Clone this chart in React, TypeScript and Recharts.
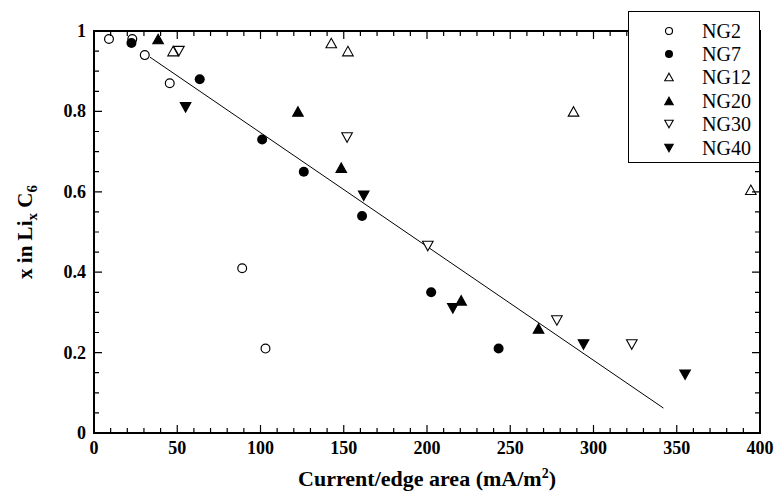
import React from 'react';
import { ScatterChart, Scatter, XAxis, YAxis, ReferenceArea, Legend } from 'recharts';

// x = current/edge area (mA/m2), y = x in LixC6
const ng2 = [
  { x: 9, y: 0.98 }, { x: 23, y: 0.98 }, { x: 30.5, y: 0.94 }, { x: 45.5, y: 0.87 },
  { x: 89, y: 0.41 }, { x: 103, y: 0.21 },
];
const ng7 = [
  { x: 22.5, y: 0.97 }, { x: 63.5, y: 0.88 }, { x: 101, y: 0.73 }, { x: 126, y: 0.65 },
  { x: 161, y: 0.54 }, { x: 202.5, y: 0.35 }, { x: 243, y: 0.21 },
];
const ng12 = [
  { x: 47.5, y: 0.95 }, { x: 142.5, y: 0.97 }, { x: 152.5, y: 0.95 }, { x: 288, y: 0.8 },
  { x: 394.5, y: 0.605 },
];
const ng20 = [
  { x: 38.5, y: 0.98 }, { x: 122.5, y: 0.8 }, { x: 148.5, y: 0.66 }, { x: 220.5, y: 0.33 },
  { x: 267, y: 0.26 },
];
const ng30 = [
  { x: 51, y: 0.95 }, { x: 152, y: 0.735 }, { x: 200.5, y: 0.465 }, { x: 278, y: 0.28 },
  { x: 323, y: 0.22 },
];
const ng40 = [
  { x: 55, y: 0.81 }, { x: 162, y: 0.59 }, { x: 215.5, y: 0.31 }, { x: 294, y: 0.22 },
  { x: 355, y: 0.145 },
];
const fitLine = [{ x: 33.6, y: 0.935 }, { x: 342, y: 0.062 }];

const xMajor = [0, 50, 100, 150, 200, 250, 300, 350, 400];
const yMajor = [0, 0.2, 0.4, 0.6, 0.8, 1];
const xTicks = Array.from({ length: 41 }, (_, i) => i * 10);
const yTicks = Array.from({ length: 21 }, (_, i) => Math.round(i * 5) / 100);

const FONT = "'Liberation Serif', 'Times New Roman', Times, serif";
const PLOT_TOP = 31;
const PLOT_BOTTOM = 433;
const PLOT_LEFT = 94;
const PLOT_RIGHT = 760;

type Kind = 'circle' | 'dot' | 'up' | 'upFill' | 'down' | 'downFill';

const Marker = ({ cx, cy, kind, s = 1 }: { cx: number; cy: number; kind: Kind; s?: number }) => {
  if (cx == null || cy == null) return null;
  if (kind === 'circle') return <circle cx={cx} cy={cy} r={4.4 * s} fill="#fff" stroke="#000" strokeWidth={1.2} />;
  if (kind === 'dot') return <circle cx={cx} cy={cy} r={5 * s} fill="#000" />;
  const w = 5.3 * s;
  const h = 9.5 * s;
  const up = kind === 'up' || kind === 'upFill';
  const filled = kind === 'upFill' || kind === 'downFill';
  const d = up
    ? `M${cx},${cy - h / 2} L${cx + w},${cy + h / 2} L${cx - w},${cy + h / 2} Z`
    : `M${cx},${cy + h / 2} L${cx + w},${cy - h / 2} L${cx - w},${cy - h / 2} Z`;
  return <path d={d} fill={filled ? '#000' : '#fff'} stroke="#000" strokeWidth={1.1} strokeLinejoin="miter" />;
};

const series: { name: string; data: { x: number; y: number }[]; kind: Kind }[] = [
  { name: 'NG2', data: ng2, kind: 'circle' },
  { name: 'NG7', data: ng7, kind: 'dot' },
  { name: 'NG12', data: ng12, kind: 'up' },
  { name: 'NG20', data: ng20, kind: 'upFill' },
  { name: 'NG30', data: ng30, kind: 'down' },
  { name: 'NG40', data: ng40, kind: 'downFill' },
];

const isMajor = (v: number, majors: number[]) => majors.some((m) => Math.abs(m - v) < 1e-6);

const textStyle = { fontFamily: FONT, fontWeight: 700 } as React.CSSProperties;

// ticks point inward and are mirrored on the top / right frame
const XTick = (props: any) => {
  const x = Number(props.x);
  const y = Number(props.y);
  const v = props.payload.value;
  const major = isMajor(v, xMajor);
  const len = major ? 8 : 5;
  return (
    <g>
      <path d={`M${x},${y}V${y - len}M${x},${PLOT_TOP}V${PLOT_TOP + len}`} stroke="#000" strokeWidth={1.2} fill="none" />
      {major && (
        <text x={x} y={y + 21} textAnchor="middle" style={{ ...textStyle, fontSize: 18 }} fill="#000">
          {v}
        </text>
      )}
    </g>
  );
};

const YTick = (props: any) => {
  const x = Number(props.x);
  const y = Number(props.y);
  const v = props.payload.value;
  const major = isMajor(v, yMajor);
  const len = major ? 8 : 5;
  return (
    <g>
      <path d={`M${x},${y}H${x + len}M${PLOT_RIGHT - len},${y}H${PLOT_RIGHT}`} stroke="#000" strokeWidth={1.2} fill="none" />
      {major && (
        <text x={x - 8} y={y + 6} textAnchor="end" style={{ ...textStyle, fontSize: 18 }} fill="#000">
          {String(v)}
        </text>
      )}
    </g>
  );
};

const XTitle = (props: any) => {
  const vb = props.viewBox || {};
  return (
    <text x={vb.x + vb.width / 2} y={486} textAnchor="middle" style={{ ...textStyle, fontSize: 22 }} fill="#000">
      Current/edge area (mA/m<tspan style={{ fontSize: 14 }} dy={-8}>2</tspan><tspan dy={8}>)</tspan>
    </text>
  );
};

const YTitle = (props: any) => {
  const vb = props.viewBox || {};
  const cy = vb.y + vb.height / 2;
  return (
    <text x={32} y={cy} transform={`rotate(-90 32 ${cy})`} textAnchor="middle" style={{ ...textStyle, fontSize: 21 }} fill="#000">
      x in Li<tspan style={{ fontSize: 15 }} dy={5}>x</tspan><tspan dy={-5}> C</tspan><tspan style={{ fontSize: 15 }} dy={5}>6</tspan>
    </text>
  );
};

const LegendBox = () => (
  <div
    style={{
      background: '#fff',
      border: '1px solid #000',
      width: 132,
      height: 152,
      boxSizing: 'border-box',
      paddingTop: 7,
      fontFamily: FONT,
      fontSize: 20,
      color: '#000',
    }}
  >
    {series.map((s) => (
      <div key={s.name} style={{ display: 'flex', alignItems: 'center', height: 23.4 }}>
        <svg width={20} height={20} style={{ marginLeft: 30 }}>
          <Marker cx={10} cy={10} kind={s.kind} s={0.8} />
        </svg>
        <span style={{ marginLeft: 23, lineHeight: '20px' }}>{s.name}</span>
      </div>
    ))}
  </div>
);

export default function App() {
  return (
    <div style={{ position: 'absolute', left: 0, top: 0, width: 775, height: 499, background: '#fff', fontFamily: FONT }}>
      <ScatterChart width={775} height={499} margin={{ top: PLOT_TOP, right: 775 - PLOT_RIGHT, left: PLOT_LEFT - 60, bottom: 499 - PLOT_BOTTOM - 40 }}>
        <XAxis
          type="number"
          dataKey="x"
          domain={[0, 400]}
          ticks={xTicks}
          interval={0}
          height={40}
          tickSize={0}
          tickMargin={0}
          tickLine={false}
          axisLine={false}
          tick={(p: any) => <XTick {...p} />}
          label={(p: any) => <XTitle {...p} />}
          allowDataOverflow
        />
        <YAxis
          type="number"
          dataKey="y"
          domain={[0, 1]}
          ticks={yTicks}
          interval={0}
          width={60}
          tickSize={0}
          tickMargin={0}
          tickLine={false}
          axisLine={false}
          tick={(p: any) => <YTick {...p} />}
          label={(p: any) => <YTitle {...p} />}
          allowDataOverflow
        />
        <ReferenceArea x1={0} x2={400} y1={0} y2={1} fill="none" stroke="#000" strokeWidth={2} ifOverflow="visible" />
        <Scatter
          data={fitLine}
          line={{ stroke: '#000', strokeWidth: 1 }}
          shape={() => <g />}
          isAnimationActive={false}
          legendType="none"
        />
        {series.map((s) => (
          <Scatter
            key={s.name}
            name={s.name}
            data={s.data}
            isAnimationActive={false}
            shape={(p: any) => <Marker cx={p.cx} cy={p.cy} kind={s.kind} />}
          />
        ))}
        <Legend
          layout="vertical"
          align="center"
          verticalAlign="middle"
          content={<LegendBox />}
          wrapperStyle={{ top: 11, left: 628, width: 132, height: 152 }}
        />
      </ScatterChart>
    </div>
  );
}
